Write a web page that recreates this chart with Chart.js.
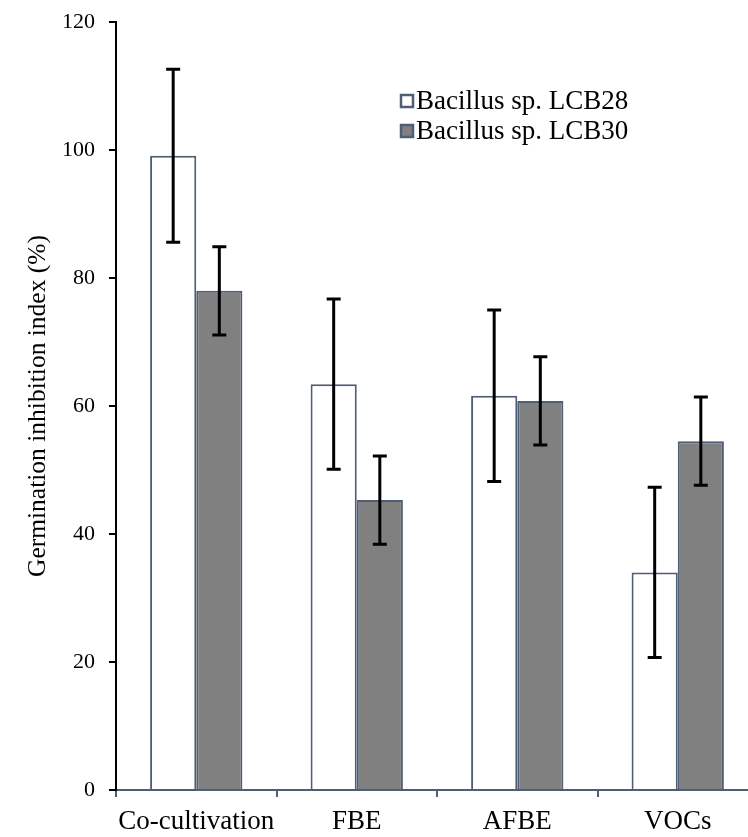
<!DOCTYPE html>
<html>
<head>
<meta charset="utf-8">
<script src="https://cdn.jsdelivr.net/npm/chart.js@4.4.0/dist/chart.umd.min.js"></script>
<style>
  html, body { margin: 0; padding: 0; background: #fff; overflow: hidden; }
</style>
</head>
<body>
<!-- the plot runs a little past the right edge of the window, as in the reference -->
<canvas id="chart" width="758" height="837"></canvas>
<script>
// values
const categories = ['Co-cultivation', 'FBE', 'AFBE', 'VOCs'];
const seriesNames = ['Bacillus sp. LCB28', 'Bacillus sp. LCB30'];
const lcb28 = [99.1, 63.4, 61.6, 34.0];
const lcb30 = [78.0, 45.3, 60.8, 54.5];
const lcb28Err = [13.5, 13.3, 13.4, 13.3];
const lcb30Err = [6.9, 6.9, 6.9, 6.9];
const yMin = 0, yMax = 120, yStep = 20;

const serif = "'Liberation Serif', 'Times New Roman', serif";
const edge = '#4f5d75';
const fills = ['#ffffff', '#808080'];
const errors = [lcb28Err, lcb30Err];

// error bars on top of the bars
const errorBars = {
  id: 'errorBars',
  afterDatasetsDraw(chart) {
    const ctx = chart.ctx;
    const y = chart.scales.y;
    ctx.save();
    ctx.strokeStyle = '#000';
    ctx.lineWidth = 3;
    chart.data.datasets.forEach((ds, d) => {
      chart.getDatasetMeta(d).data.forEach((bar, i) => {
        const v = ds.data[i], e = errors[d][i];
        const top = y.getPixelForValue(v + e);
        const bot = y.getPixelForValue(v - e);
        ctx.beginPath();
        ctx.moveTo(bar.x, top); ctx.lineTo(bar.x, bot);
        ctx.moveTo(bar.x - 7, top); ctx.lineTo(bar.x + 7, top);
        ctx.moveTo(bar.x - 7, bot); ctx.lineTo(bar.x + 7, bot);
        ctx.stroke();
      });
    });
    ctx.restore();
  }
};

// legend inside the plot, top right
const boxLegend = {
  id: 'boxLegend',
  afterDraw(chart) {
    const ctx = chart.ctx;
    ctx.save();
    ctx.font = '27px ' + serif;
    ctx.textBaseline = 'middle';
    chart.data.datasets.forEach((ds, d) => {
      const cy = 101 + d * 30;
      ctx.fillStyle = ds.backgroundColor;
      ctx.fillRect(401, cy - 6, 12, 12);
      ctx.strokeStyle = edge;
      ctx.lineWidth = 2.5;
      ctx.strokeRect(401, cy - 6, 12, 12);
      ctx.fillStyle = '#000';
      ctx.fillText(ds.label, 416, cy + 1);
    });
    ctx.restore();
  }
};

new Chart(document.getElementById('chart'), {
  type: 'bar',
  data: {
    labels: categories,
    datasets: [
      { label: seriesNames[0], data: lcb28, backgroundColor: fills[0], borderColor: edge, borderWidth: 2 },
      { label: seriesNames[1], data: lcb30, backgroundColor: fills[1], borderColor: edge, borderWidth: 2 }
    ]
  },
  options: {
    responsive: false,
    animation: false,
    layout: { padding: { top: 22, right: 0, bottom: 0, left: 0 } },
    datasets: { bar: { categoryPercentage: 0.575, barPercentage: 1 } },
    plugins: { legend: { display: false }, tooltip: { enabled: false } },
    scales: {
      x: {
        grid: { offset: true, drawOnChartArea: false, color: edge, lineWidth: 2, tickLength: 7 },
        border: { color: edge, width: 2 },
        ticks: { color: '#000', font: { family: serif, size: 27 }, padding: 9, maxRotation: 0 },
        afterFit(scale) { scale.height = 47; }
      },
      y: {
        min: yMin, max: yMax,
        grid: { drawOnChartArea: false, color: '#000', lineWidth: 2, tickLength: 7 },
        border: { color: '#000', width: 2 },
        ticks: { stepSize: yStep, color: '#000', font: { family: serif, size: 22 }, padding: 14 },
        title: {
          display: true,
          text: 'Germination inhibition index (%)',
          color: '#000',
          font: { family: serif, size: 25.5 },
          padding: { top: 23, bottom: 0 }
        },
        afterFit(scale) {
          scale.width = 116;
          scale.paddingTop = 0;
          scale.paddingBottom = 0;
        }
      }
    }
  },
  plugins: [errorBars, boxLegend]
});
</script>
</body>
</html>
